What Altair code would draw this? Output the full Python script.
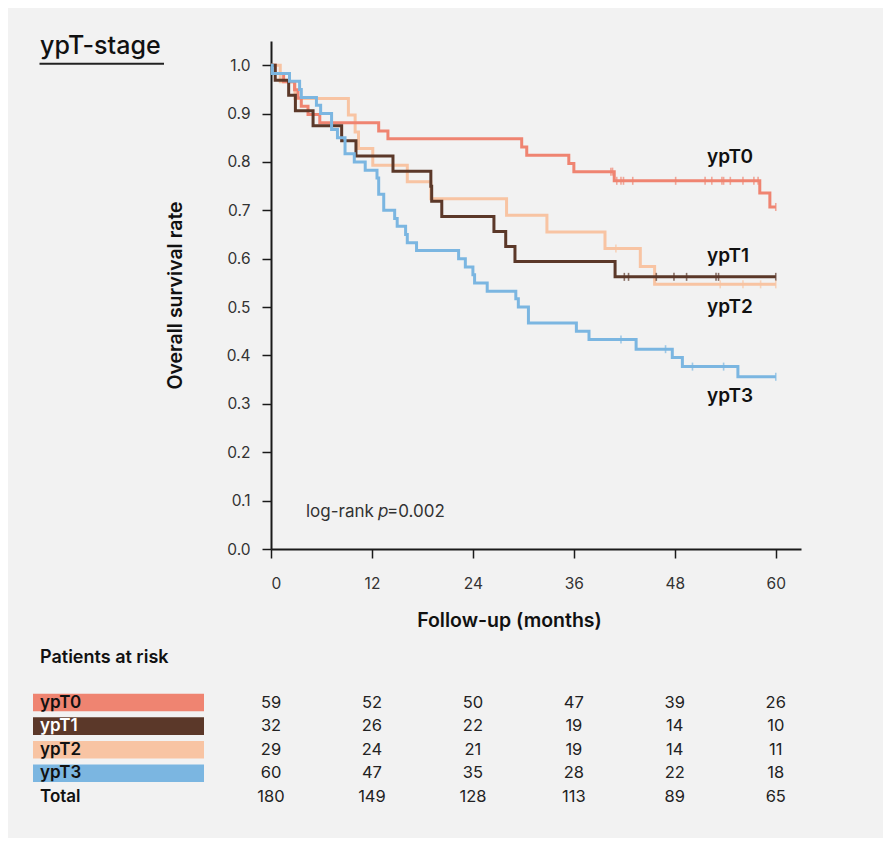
import altair as alt
import pandas as pd

# ---------------- data ----------------
groups = ["ypT0", "ypT1", "ypT2", "ypT3"]
colors = ["#EF8471", "#5B3829", "#F8C4A3", "#7BB6E1"]

# drop times (months) and survival after each drop
t0_times = [0.5, 1.5, 2.8, 3.2, 3.6, 4.4, 5.8, 12.8, 13.9, 29.8, 30.4, 35.4, 36.0, 40.8, 58.1, 59.3]
t0_surv = [0.983, 0.966, 0.949, 0.932, 0.915, 0.898, 0.881, 0.864, 0.848, 0.831, 0.814, 0.797, 0.780, 0.761, 0.736, 0.707]
t0_cens = [40.4, 40.6, 41.1, 41.6, 41.9, 43.0, 48.1, 51.6, 52.4, 53.6, 53.8, 54.6, 56.1, 57.4, 57.9, 60.0]

t1_times = [0.5, 2.1, 2.9, 5.0, 8.4, 10.1, 14.5, 19.0, 19.1, 20.3, 26.5, 27.9, 29.0, 40.9]
t1_surv = [0.969, 0.938, 0.906, 0.875, 0.844, 0.8125, 0.781, 0.750, 0.719, 0.6875, 0.656, 0.625, 0.594, 0.5625]
t1_cens = [42.0, 42.5, 45.8, 47.9, 49.4, 52.9, 53.2, 60.0]

t2_times = [1.1, 2.85, 9.2, 10.0, 10.4, 12.1, 16.2, 19.0, 28.0, 32.8, 39.7, 43.9, 45.6]
t2_surv = [0.966, 0.931, 0.897, 0.862, 0.828, 0.793, 0.759, 0.724, 0.690, 0.655, 0.621, 0.584, 0.547]
t2_cens = [41.0, 53.4, 56.1, 58.2, 60.0]

t3_times = [0.15, 2.2, 3.4, 3.6, 5.4, 5.9, 7.2, 7.9, 8.8, 9.9, 11.2, 12.6, 12.8, 13.4, 14.7, 15.0,
            16.0, 16.2, 17.3, 22.3, 23.1, 24.0, 24.2, 25.7, 29.1, 29.4, 30.6, 36.3, 37.8, 43.4,
            47.7, 48.9, 55.5]
t3_surv = [0.983, 0.967, 0.950, 0.933, 0.917, 0.900, 0.867, 0.850, 0.817, 0.800, 0.783, 0.767, 0.733,
           0.700, 0.683, 0.667, 0.650, 0.633, 0.617, 0.600, 0.583, 0.567, 0.550, 0.533, 0.517, 0.500,
           0.467, 0.450, 0.433, 0.413, 0.396, 0.377, 0.356]
t3_cens = [41.6, 46.9, 50.1, 53.8, 60.0]

risk_months = [0, 12, 24, 36, 48, 60]
risk_rows = ["ypT0", "ypT1", "ypT2", "ypT3", "Total"]
risk_ypT0 = [59, 52, 50, 47, 39, 26]
risk_ypT1 = [32, 26, 22, 19, 14, 10]
risk_ypT2 = [29, 24, 21, 19, 14, 11]
risk_ypT3 = [60, 47, 35, 28, 22, 18]
risk_total = [180, 149, 128, 113, 89, 65]

x_ticks = [0, 12, 24, 36, 48, 60]
y_ticks = [0.0, 0.1, 0.2, 0.3, 0.4, 0.5, 0.6, 0.7, 0.8, 0.9, 1.0]

FONT = "Inter"
DARK = "#1a1a1a"

series = {
    "ypT0": (t0_times, t0_surv, t0_cens),
    "ypT1": (t1_times, t1_surv, t1_cens),
    "ypT2": (t2_times, t2_surv, t2_cens),
    "ypT3": (t3_times, t3_surv, t3_cens),
}


def surv_at(times, surv, t):
    s = 1.0
    for ti, si in zip(times, surv):
        if ti <= t:
            s = si
    return s


# long tables built from the arrays above
line_rows = []
cens_rows = []
for g in groups:
    times, surv, cens = series[g]
    pts_t = [0.0] + list(times) + [60.0]
    pts_s = [1.0] + list(surv) + [surv[-1]]
    for t, s in zip(pts_t, pts_s):
        line_rows.append({"group": g, "t": t, "s": s})
    for t in cens:
        cens_rows.append({"group": g, "t": t, "s": surv_at(times, surv, t)})
df_line = pd.DataFrame(line_rows)
df_cens = pd.DataFrame(cens_rows)

xscale = alt.Scale(domain=[0, 63], nice=False, zero=False)
yscale = alt.Scale(domain=[0, 1.05], nice=False, zero=False)

x_axis = alt.Axis(
    values=x_ticks, grid=False, title="Follow-up (months)",
    domainColor=DARK, domainWidth=2, tickColor=DARK, tickSize=9, tickWidth=1.5,
    labelFont=FONT, labelFontSize=15.5, labelColor="#333", labelPadding=18,
    titleFont=FONT, titleFontSize=19.5, titleFontWeight=600, titleColor="#111",
    titlePadding=20, titleX=238, titleAlign="center",
)
y_axis = alt.Axis(
    values=y_ticks, format=".1f", grid=False, title="Overall survival rate",
    domainColor=DARK, domainWidth=2, tickColor=DARK, tickSize=9, tickWidth=1.5,
    labelFont=FONT, labelFontSize=15.5, labelColor="#333", labelPadding=12,
    titleFont=FONT, titleFontSize=19.5, titleFontWeight=600, titleColor="#111",
    titlePadding=41,
)

draw_order = ["ypT2", "ypT0", "ypT1", "ypT3"]
layers = []

# base layer carrying the axes
layers.append(
    alt.Chart(df_line).mark_line(interpolate="step-after", strokeWidth=3).encode(
        x=alt.X("t:Q", scale=xscale, axis=x_axis),
        y=alt.Y("s:Q", scale=yscale, axis=y_axis),
        color=alt.Color("group:N", scale=alt.Scale(domain=groups, range=colors), legend=None),
    ).transform_filter(alt.datum.group == draw_order[0])
)
for g in draw_order[1:]:
    layers.append(
        alt.Chart(df_line).transform_filter(alt.datum.group == g).mark_line(
            interpolate="step-after", strokeWidth=3).encode(
            x=alt.X("t:Q"), y=alt.Y("s:Q"),
            color=alt.Color("group:N", legend=None),
        )
    )
layers.append(
    alt.Chart(df_cens).mark_tick(orient="vertical", size=8, thickness=1.6).encode(
        x=alt.X("t:Q"), y=alt.Y("s:Q"),
        color=alt.Color("group:N", legend=None),
    )
)

one = pd.DataFrame({"a": [0]})

label_pos = {"ypT0": 122, "ypT1": 220.7, "ypT2": 272.3, "ypT3": 360.7}
for g in groups:
    layers.append(
        alt.Chart(one).mark_text(text=g, font=FONT, fontSize=19, fontWeight=600, color="#111",
                                 align="left", baseline="alphabetic").encode(
            x=alt.value(436), y=alt.value(label_pos[g]))
    )

layers += [
    alt.Chart(one).mark_text(text="log-rank", font=FONT, fontSize=17, color="#333",
                             align="left", baseline="alphabetic").encode(x=alt.value(35), y=alt.value(476)),
    alt.Chart(one).mark_text(text="p", font=FONT, fontSize=17, fontStyle="italic", color="#333",
                             align="left", baseline="alphabetic").encode(x=alt.value(107), y=alt.value(476)),
    alt.Chart(one).mark_text(text="=0.002", font=FONT, fontSize=17, color="#333",
                             align="left", baseline="alphabetic").encode(x=alt.value(116), y=alt.value(476)),
    alt.Chart(one).mark_text(text="ypT-stage", font=FONT, fontSize=25, fontWeight=500, color="#111",
                             align="left", baseline="alphabetic").encode(x=alt.value(-231), y=alt.value(13)),
    alt.Chart(one).mark_rule(color="#222", strokeWidth=2).encode(
        x=alt.value(-231.5), x2=alt.value(-107), y=alt.value(22.8)),
    alt.Chart(one).mark_text(text="Patients at risk", font=FONT, fontSize=18, fontWeight=600, color="#111",
                             align="left", baseline="alphabetic").encode(x=alt.value(-231), y=alt.value(622)),
]

# ---------------- at-risk table ----------------
risk_lists = [risk_ypT0, risk_ypT1, risk_ypT2, risk_ypT3, risk_total]
row_step = 23.6
row_top = 661.5  # centre of first row, px below plot top
for i, (r, vals) in enumerate(zip(risk_rows, risk_lists)):
    yc = row_top + i * row_step
    df_r = pd.DataFrame({"month": risk_months, "n": vals})
    if r in groups:
        layers.append(
            alt.Chart(one).mark_rect(color=colors[groups.index(r)]).encode(
                x=alt.value(-238), x2=alt.value(-67),
                y=alt.value(yc - 8.8), y2=alt.value(yc + 8.8))
        )
    layers.append(
        alt.Chart(one).mark_text(text=r, font=FONT, fontSize=17, fontWeight=600,
                                 color="#ffffff" if r == "ypT1" else "#111111",
                                 align="left", baseline="middle").encode(
            x=alt.value(-231), y=alt.value(yc))
    )
    layers.append(
        alt.Chart(df_r).mark_text(font=FONT, fontSize=16.5, color="#222", align="center",
                                  baseline="middle").encode(
            x=alt.X("month:Q"), y=alt.value(yc), text="n:Q")
    )

chart = alt.layer(*layers).properties(
    width=530, height=508,
    padding={"left": 263, "top": 33, "right": 82, "bottom": 289},
    autosize=alt.AutoSizeParams(type="none"),
    background="#F2F2F2",
).configure_view(stroke=None)

chart.save("out.html", embed_options={"renderer": "svg", "actions": False})
